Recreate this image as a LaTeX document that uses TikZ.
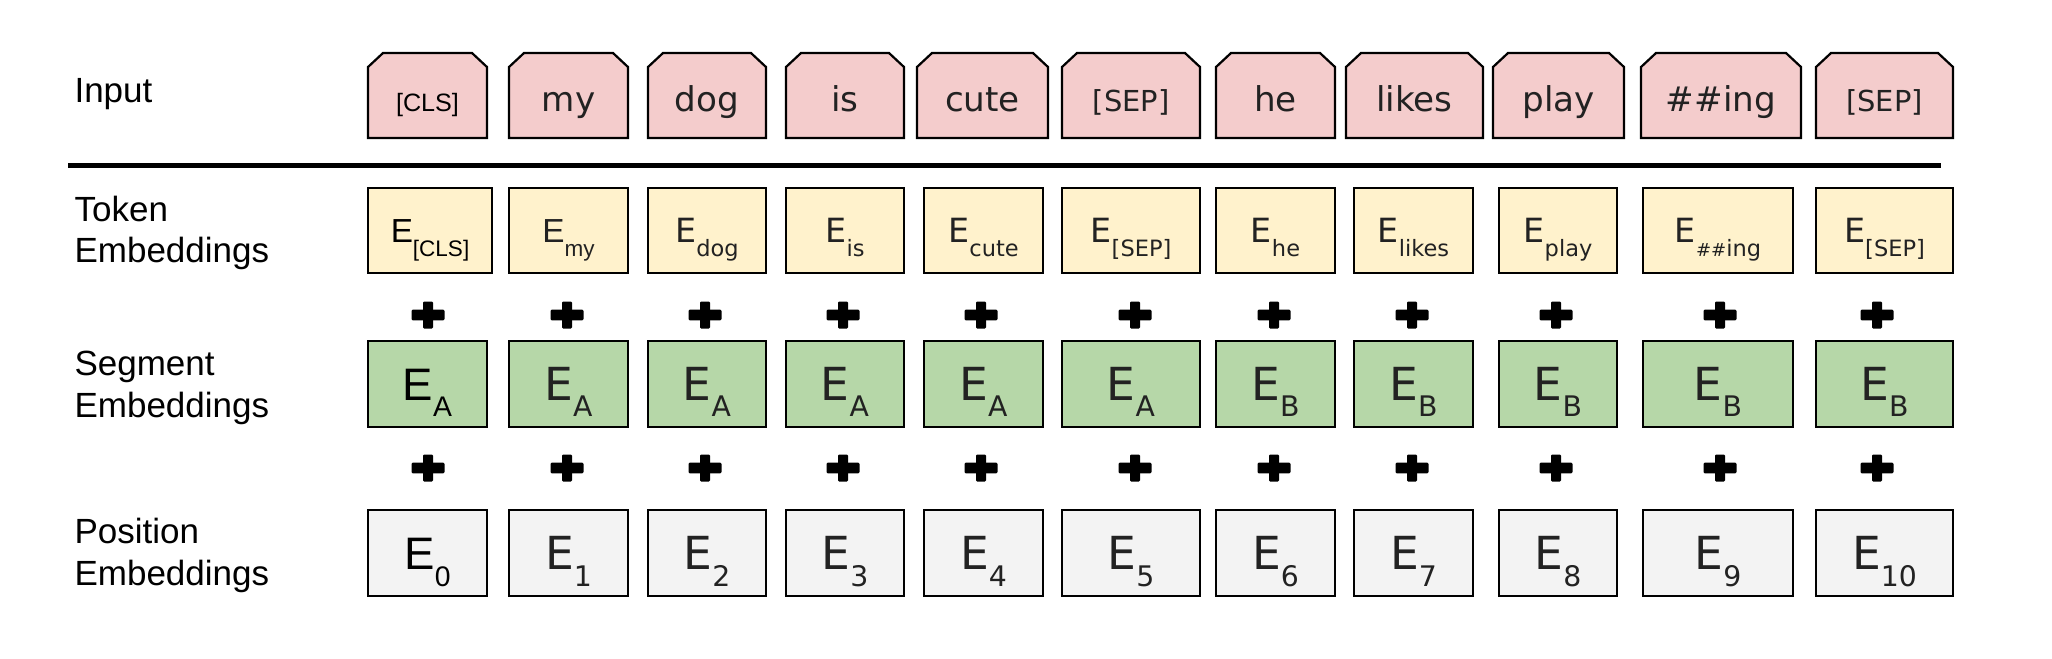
\documentclass[tikz,border=0pt]{standalone}
\usepackage{fontspec}
\setmainfont{Liberation Sans}
\newfontfamily\arialf{Liberation Sans}
\newfontfamily\dejavuf{DejaVu Sans}
\usetikzlibrary{backgrounds,calc}
\definecolor{inpink}{HTML}{F4CCCC}
\definecolor{tokyel}{HTML}{FFF2CC}
\definecolor{seggrn}{HTML}{B6D7A8}
\definecolor{posgry}{HTML}{F3F3F3}
\definecolor{txtd}{HTML}{222222}

\newcommand\infontw{\dejavuf\fontsize{12.3}{14}\selectfont}
\newcommand\infontc{\arialf\fontsize{9.05}{11}\selectfont}
\newcommand\infonts{\dejavuf\fontsize{10.4}{12}\selectfont}
\newcommand\hashsub{\fontsize{6.5}{8}\selectfont\#\#}

\newcommand\tokE[2]{{#1\fontsize{12}{14}\selectfont E}\raisebox{-5.04pt}{#1\fontsize{8.1}{10}\selectfont #2}}
\newcommand\segE[2]{{#1\fontsize{16.4}{19}\selectfont E}\raisebox{-5.76pt}{#1\fontsize{10.2}{12}\selectfont #2}}
\newcommand\posE[2]{{#1\fontsize{16.4}{19}\selectfont E}\raisebox{-6.1pt}{#1\fontsize{10.2}{12}\selectfont #2}}

\tikzset{
  inputnode/.style={rectangle, inner sep=0pt, outer sep=0pt, minimum height=30.6pt,
    text height=11.16pt, text depth=0pt, text=txtd},
  inshape/.style={fill=inpink, draw=black, line width=0.8pt},
  ebase/.style={rectangle, inner sep=0pt, outer sep=0pt, draw=black, line width=0.8pt,
    minimum height=30.8pt, text height=8.65pt, text depth=0pt, text=txtd},
  tokbox/.style={ebase, fill=tokyel},
  segbox/.style={ebase, fill=seggrn, text height=11.8pt},
  posbox/.style={ebase, fill=posgry, text height=11.8pt},
  lbl/.style={anchor=base west, inner sep=0pt, font=\arialf\fontsize{12.6}{15}\selectfont, text=black},
  sepline/.style={line width=1.8pt},
  plusfill/.style={fill=black, rounded corners=0.4pt}
}

\newcommand\inbox[5]{%
  \node[inputnode, minimum width={(#3-#2)*0.36pt}, font=#4] (#1) at ({(#2+#3)/2},95.5) {#5};
  \begin{scope}[on background layer]
    \draw[inshape] (#1.south west) -- ([yshift=-5.04pt]#1.north west) -- ([xshift=5.4pt]#1.north west)
      -- ([xshift=-5.4pt]#1.north east) -- ([yshift=-5.04pt]#1.north east) -- (#1.south east) -- cycle;
  \end{scope}}

\newcommand\embox[6]{%
  \node[#5, minimum width={(#3-#2)*0.36pt}] (#1) at ({(#2+#3)/2},#4) {#6};}

\newcommand\plusmark[2]{%
  \fill[plusfill] ({#1-16.5},{#2-5.3}) rectangle ({#1+16.5},{#2+5.3});
  \fill[plusfill] ({#1-5},{#2-13.5}) rectangle ({#1+5},{#2+13.5});}

\begin{document}
\begin{tikzpicture}[x=0.36pt, y=-0.36pt]
\useasboundingbox (0,0) rectangle (2052,658);
\begin{scope}[on background layer]
  \fill[white] (0,0) rectangle (2052,658);
\end{scope}

% row labels
\node[lbl] (lin) at (74,102) {Input};
\node[lbl] (ltok1) at (74,221) {Token};
\node[lbl] (ltok2) at (74,262) {Embeddings};
\node[lbl] (lseg1) at (74,375) {Segment};
\node[lbl] (lseg2) at (74,417) {Embeddings};
\node[lbl] (lpos1) at (74,543) {Position};
\node[lbl] (lpos2) at (74,585) {Embeddings};

% input row
\inbox{i1}{368}{487}{\infontc}{\textcolor{black}{[CLS]}}
\inbox{i2}{509}{628}{\infontw}{my}
\inbox{i3}{648}{766}{\infontw}{dog}
\inbox{i4}{786}{904}{\infontw}{is}
\inbox{i5}{917}{1048}{\infontw}{cute}
\inbox{i6}{1062}{1200}{\infonts}{[SEP]}
\inbox{i7}{1216}{1335}{\infontw}{he}
\inbox{i8}{1346}{1483}{\infontw}{likes}
\inbox{i9}{1493}{1624}{\infontw}{play}
\inbox{i10}{1641}{1801}{\infontw}{\#\#ing}
\inbox{i11}{1816}{1953}{\infonts}{[SEP]}

% separator
\coordinate (sepL) at (68,165);
\coordinate (sepR) at (1941,165);
\draw[sepline] (sepL) -- (sepR);

% token embeddings
\embox{t1}{368}{492}{230.5}{tokbox,text=black}{\tokE{\arialf}{[CLS]}}
\embox{t2}{509}{628}{230.5}{tokbox}{\tokE{\arialf}{my}}
\embox{t3}{648}{766}{230.5}{tokbox}{\tokE{\dejavuf}{dog}}
\embox{t4}{786}{904}{230.5}{tokbox}{\tokE{\dejavuf}{is}}
\embox{t5}{924}{1043}{230.5}{tokbox}{\tokE{\dejavuf}{cute}}
\embox{t6}{1062}{1200}{230.5}{tokbox}{\tokE{\dejavuf}{[SEP]}}
\embox{t7}{1216}{1335}{230.5}{tokbox}{\tokE{\dejavuf}{he}}
\embox{t8}{1354}{1473}{230.5}{tokbox}{\tokE{\dejavuf}{likes}}
\embox{t9}{1499}{1617}{230.5}{tokbox}{\tokE{\dejavuf}{play}}
\embox{t10}{1643}{1793}{230.5}{tokbox}{\tokE{\dejavuf}{{\hashsub}ing}}
\embox{t11}{1816}{1953}{230.5}{tokbox}{\tokE{\dejavuf}{[SEP]}}

% segment embeddings
\embox{s1}{368}{487}{384}{segbox,text=black}{\segE{\arialf}{A}}
\embox{s2}{509}{628}{384}{segbox}{\segE{\dejavuf}{A}}
\embox{s3}{648}{766}{384}{segbox}{\segE{\dejavuf}{A}}
\embox{s4}{786}{904}{384}{segbox}{\segE{\dejavuf}{A}}
\embox{s5}{924}{1043}{384}{segbox}{\segE{\dejavuf}{A}}
\embox{s6}{1062}{1200}{384}{segbox}{\segE{\dejavuf}{A}}
\embox{s7}{1216}{1335}{384}{segbox}{\segE{\dejavuf}{B}}
\embox{s8}{1354}{1473}{384}{segbox}{\segE{\dejavuf}{B}}
\embox{s9}{1499}{1617}{384}{segbox}{\segE{\dejavuf}{B}}
\embox{s10}{1643}{1793}{384}{segbox}{\segE{\dejavuf}{B}}
\embox{s11}{1816}{1953}{384}{segbox}{\segE{\dejavuf}{B}}

% position embeddings
\embox{p1}{368}{487}{553}{posbox,text=black}{\posE{\arialf}{0}}
\embox{p2}{509}{628}{553}{posbox}{\posE{\dejavuf}{1}}
\embox{p3}{648}{766}{553}{posbox}{\posE{\dejavuf}{2}}
\embox{p4}{786}{904}{553}{posbox}{\posE{\dejavuf}{3}}
\embox{p5}{924}{1043}{553}{posbox}{\posE{\dejavuf}{4}}
\embox{p6}{1062}{1200}{553}{posbox}{\posE{\dejavuf}{5}}
\embox{p7}{1216}{1335}{553}{posbox}{\posE{\dejavuf}{6}}
\embox{p8}{1354}{1473}{553}{posbox}{\posE{\dejavuf}{7}}
\embox{p9}{1499}{1617}{553}{posbox}{\posE{\dejavuf}{8}}
\embox{p10}{1643}{1793}{553}{posbox}{\posE{\dejavuf}{9}}
\embox{p11}{1816}{1953}{553}{posbox}{\posE{\dejavuf}{10}}

% plus signs
\foreach \px in {428,567,705,843,981,1135,1274,1412,1556,1720,1877}{
  \plusmark{\px}{315}
  \plusmark{\px}{468}
}
\end{tikzpicture}
\end{document}
